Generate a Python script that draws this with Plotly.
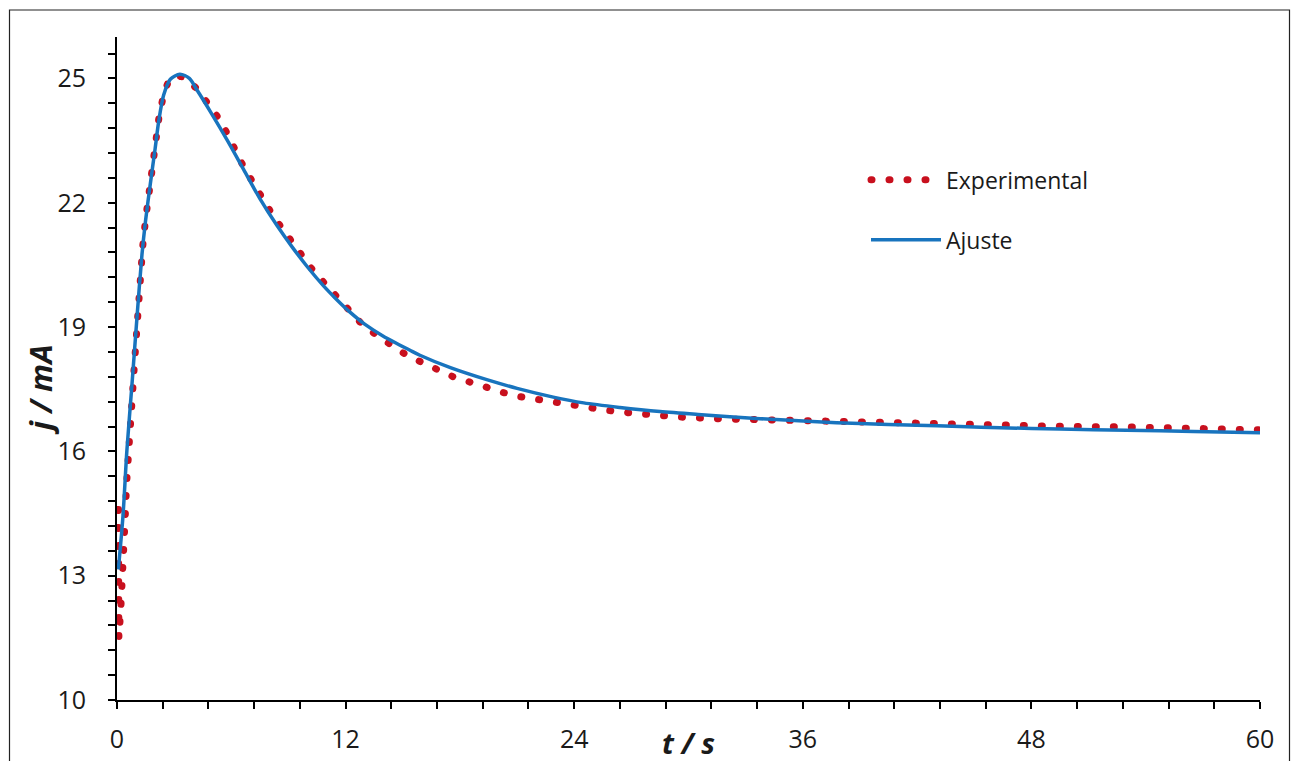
import plotly.graph_objects as go

# Experimental data (t / s, j / mA)
exp_t = [0.08, 0.08, 0.10, 0.20, 0.30, 0.38, 0.43, 0.50, 0.60, 0.75, 0.90, 1.05, 1.20, 1.35,
         1.50, 1.75, 2.00, 2.20, 2.45, 2.70, 3.10, 3.50, 4.20, 4.76, 5.29, 5.74, 6.16,
         6.61, 7.07, 7.54, 8.07, 8.59, 9.12, 9.64, 10.22, 10.83, 11.44, 12.09, 12.76,
         13.49, 14.24, 15.00, 15.90, 16.75, 17.60, 18.48, 19.37, 20.28, 21.15, 22.07,
         22.99, 23.92, 24.83, 25.74, 26.67, 27.60, 28.54, 29.50, 31.30, 33.20, 35.10,
         36.94, 38.80, 40.67, 42.50, 44.43, 46.30, 48.19, 50.00, 52.90, 56.00, 60.00]
exp_j = [14.60, 13.00, 11.50, 12.20, 12.90, 13.70, 14.40, 15.20, 16.10, 17.10, 18.00, 19.00,
         20.10, 20.95, 21.60, 22.50, 23.40, 24.05, 24.62, 24.93, 25.07, 25.03, 24.75,
         24.43, 24.07, 23.71, 23.28, 22.90, 22.54, 22.16, 21.78, 21.43, 21.09, 20.73,
         20.41, 20.09, 19.77, 19.45, 19.12, 18.85, 18.62, 18.38, 18.17, 17.98, 17.81,
         17.68, 17.53, 17.42, 17.32, 17.25, 17.17, 17.10, 17.04, 16.99, 16.94, 16.90,
         16.86, 16.83, 16.79, 16.77, 16.74, 16.71, 16.70, 16.68, 16.67, 16.66, 16.64,
         16.62, 16.60, 16.59, 16.56, 16.52]

# Fitted curve (Ajuste)
fit_t = [0.07, 0.31, 0.52, 0.79, 1.05, 1.31, 1.50, 1.75, 2.00, 2.20, 2.45, 2.80, 3.30,
         3.80, 4.20, 4.90, 5.80, 6.65, 7.50, 8.40, 9.20, 10.00, 10.83, 11.50, 12.23,
         13.00, 13.98, 15.38, 15.90, 17.50, 19.41, 21.00, 22.90, 24.50, 26.40, 28.50,
         30.50, 33.75, 36.50, 39.00, 42.00, 44.25, 46.35, 49.50, 53.00, 56.50, 60.00]
fit_j = [13.15, 14.42, 16.03, 17.64, 19.24, 20.75, 21.57, 22.46, 23.30, 24.00, 24.60,
         24.98, 25.10, 25.00, 24.72, 24.20, 23.50, 22.80, 22.10, 21.45, 20.93, 20.45,
         20.00, 19.68, 19.36, 19.07, 18.78, 18.44, 18.32, 18.02, 17.73, 17.52, 17.31,
         17.17, 17.06, 16.96, 16.89, 16.79, 16.72, 16.67, 16.63, 16.60, 16.57, 16.54,
         16.51, 16.48, 16.45]

x_ticks = [0, 12, 24, 36, 48, 60]
y_ticks = [10, 13, 16, 19, 22, 25]

FONT = "Open Sans"
TXT = "#1a1a1a"

fig = go.Figure()
fig.add_trace(go.Scatter(
    x=exp_t, y=exp_j, mode="lines", name="Experimental",
    line=dict(color="#C8101E", width=7, dash="1px,17px"),
    legendgroup="a",
))
fig.add_trace(go.Scatter(
    x=fit_t, y=fit_j, mode="lines", name="Ajuste",
    line=dict(color="#1874BE", width=3.5, shape="spline", smoothing=0.8),
    legendgroup="b",
))

W, H = 1293, 761
L, R, T, B = 117, 33, 36.5, 61
pw = W - L - R
ph = H - T - B

def px_x(p):
    return (p - L) / pw

def px_y(p):
    return (H - B - p) / ph

axis_common = dict(
    showline=True, linecolor="black", linewidth=2,
    ticks="outside", ticklen=7, tickwidth=2, tickcolor="black",
    showgrid=False, zeroline=False, automargin=False,
    tickfont=dict(family=FONT, size=25, color=TXT),
)

fig.update_xaxes(range=[0, 60], tickvals=x_ticks, ticklabelstandoff=9,
                 minor=dict(dtick=2.4, tick0=0, ticks="outside", ticklen=7,
                            tickwidth=2, tickcolor="black"),
                 **axis_common)
fig.update_yaxes(range=[10, 26], tickvals=y_ticks, ticklabelstandoff=17,
                 minor=dict(dtick=0.6, tick0=10, ticks="outside", ticklen=7,
                            tickwidth=2, tickcolor="black"),
                 **axis_common)

fig.update_layout(
    width=W, height=H,
    margin=dict(l=L, r=R, t=T, b=B, pad=0, autoexpand=False),
    paper_bgcolor="white", plot_bgcolor="white",
    font=dict(family=FONT, size=23, color=TXT),
    legend=dict(x=px_x(866), y=px_y(158), xanchor="left", yanchor="top",
                bgcolor="rgba(0,0,0,0)", tracegroupgap=27,
                font=dict(family=FONT, size=23, color=TXT), itemwidth=70),
    annotations=[
        dict(text="t / s", x=0.5, y=px_y(743), xref="paper", yref="paper",
             showarrow=False, xanchor="center", yanchor="middle",
             font=dict(family=FONT, size=29, weight="bold", style="italic", color=TXT)),
        dict(text="j / mA", x=px_x(40), y=px_y(389), xref="paper", yref="paper",
             showarrow=False, xanchor="center", yanchor="middle", textangle=-90,
             font=dict(family=FONT, size=31, weight="bold", style="italic", color=TXT)),
    ],
    shapes=[
        dict(type="rect", xref="paper", yref="paper",
             x0=px_x(9.5), x1=px_x(1289.5), y0=px_y(775), y1=px_y(9.5),
             line=dict(color="#222222", width=1.2), fillcolor="rgba(0,0,0,0)", layer="below"),
    ],
)

post = """
document.body.style.margin = '0';
document.documentElement.style.overflow = 'hidden';
document.body.style.overflow = 'hidden';
var gd = document.getElementById('{plot_id}');
gd.querySelectorAll('path').forEach(function(p){
  var d = p.style.strokeDasharray;
  if (d && d !== 'none') { p.style.strokeLinecap = 'round'; }
});
"""

fig.write_html("out.html", post_script=post, config={"displayModeBar": False})
